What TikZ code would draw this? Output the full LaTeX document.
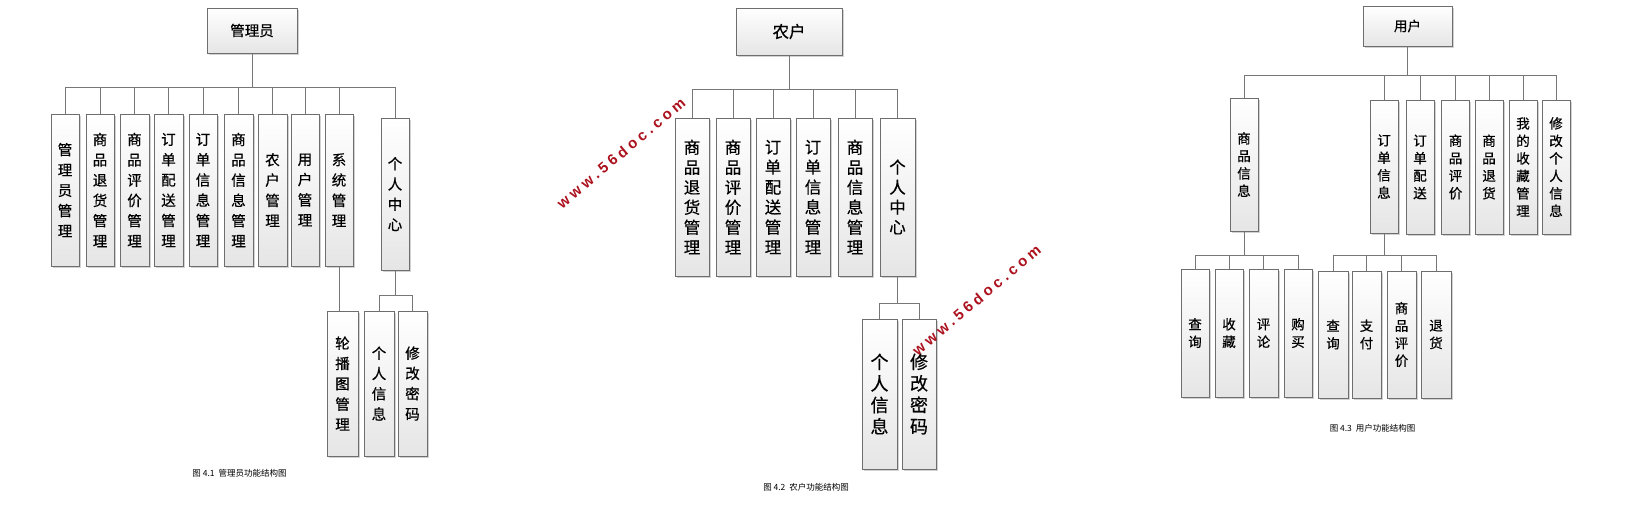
\documentclass[tikz,border=0pt]{standalone}
\usepackage{fontspec}
\newfontfamily\cjk{Noto Sans CJK SC}[FakeBold=0.5]
\newfontfamily\capfont{Noto Sans CJK SC}
\newfontfamily\wmfont{Liberation Sans}[LetterSpace=25]
\usetikzlibrary{shadows}

\definecolor{boxline}{HTML}{6E6E6E}
\definecolor{linkline}{HTML}{777777}
\definecolor{wmred}{HTML}{AC121E}

\tikzset{
  rootbox/.style={draw=boxline, line width=1pt, top color=white, bottom color=black!10,
    drop shadow={shadow xshift=1.5pt, shadow yshift=-1.5pt, fill=black!35, opacity=.5},
    inner sep=0pt, align=center},
  colbox/.style={rootbox},
  link/.style={draw=linkline, line width=1pt},
  figcap/.style={font=\capfont\fontsize{8.5}{10}\selectfont},
  watermark/.style={text=wmred, rotate=40, font=\wmfont\bfseries\fontsize{15}{15}\selectfont}
}

\begin{document}
\begin{tikzpicture}[x=1pt,y=-1pt]
                \useasboundingbox (0,0) rectangle (1635,515);

                \begin{scope}[every node/.append style={font=\cjk\fontsize{14.5}{20.3}\selectfont}]
                \node[rootbox, minimum width=90, minimum height=45] (a0) at (252,30.5) {管理员};
                \node[colbox, minimum width=28, minimum height=152] (a1) at (65,190) {管\\理\\员\\管\\理};
                \node[colbox, minimum width=28, minimum height=152] (a2) at (100,190) {商\\品\\退\\货\\管\\理};
                \node[colbox, minimum width=29, minimum height=152] (a3) at (134.5,190) {商\\品\\评\\价\\管\\理};
                \node[colbox, minimum width=29, minimum height=152] (a4) at (168.5,190) {订\\单\\配\\送\\管\\理};
                \node[colbox, minimum width=28, minimum height=152] (a5) at (203,190) {订\\单\\信\\息\\管\\理};
                \node[colbox, minimum width=29, minimum height=152] (a6) at (238.5,190) {商\\品\\信\\息\\管\\理};
                \node[colbox, minimum width=29, minimum height=152] (a7) at (272.5,190) {农\\户\\管\\理};
                \node[colbox, minimum width=28, minimum height=152] (a8) at (305,190) {用\\户\\管\\理};
                \node[colbox, minimum width=28, minimum height=152] (a9) at (339,190) {系\\统\\管\\理};
                \node[colbox, minimum width=28, minimum height=152] (a10) at (395,194) {个\\人\\中\\心};
                \node[colbox, minimum width=31, minimum height=145] (a11) at (342.5,383.5) {轮\\播\\图\\管\\理};
                \node[colbox, minimum width=30, minimum height=145] (a12) at (379,383.5) {个\\人\\信\\息};
                \node[colbox, minimum width=29, minimum height=145] (a13) at (412.5,383.5) {修\\改\\密\\码};
                \end{scope}

                \path (a0.south) ++(0,34) coordinate (abus);
                \draw[link] (a0.south) -- (abus);
                \foreach \i in {1,...,10}
                    \draw[link] (abus) -| (a\i.north);
                \draw[link] (a9.south) -- (a9.south |- a11.north);
                \path (a10.south) ++(0,25) coordinate (abus2);
                \draw[link] (a10.south) -- (abus2) -| (a12.north);
                \draw[link] (abus2) -| (a13.north);
                \node[figcap] (acap) at (239.5,473) {图 4.1\ \ 管理员功能结构图};

                \begin{scope}[every node/.append style={font=\cjk\fontsize{16.5}{20}\selectfont}]
                \node[rootbox, minimum width=106, minimum height=47] (f0) at (789,31.5) {农户};
                \node[colbox, minimum width=34, minimum height=158] (f1) at (692,197) {商\\品\\退\\货\\管\\理};
                \node[colbox, minimum width=34, minimum height=158] (f2) at (733,197) {商\\品\\评\\价\\管\\理};
                \node[colbox, minimum width=34, minimum height=158] (f3) at (773,197) {订\\单\\配\\送\\管\\理};
                \node[colbox, minimum width=34, minimum height=158] (f4) at (813,197) {订\\单\\信\\息\\管\\理};
                \node[colbox, minimum width=34, minimum height=158] (f5) at (855,197) {商\\品\\信\\息\\管\\理};
                \node[colbox, minimum width=35, minimum height=158] (f6) at (897.5,197) {个\\人\\中\\心};
                \end{scope}
                \begin{scope}[every node/.append style={font=\cjk\fontsize{18}{21.5}\selectfont}]
                \node[colbox, minimum width=35, minimum height=150] (f7) at (879.5,394) {个\\人\\信\\息};
                \node[colbox, minimum width=34, minimum height=150] (f8) at (919,394) {修\\改\\密\\码};
                \end{scope}

                \path (f0.south) ++(0,34) coordinate (fbus);
                \draw[link] (f0.south) -- (fbus);
                \foreach \i in {1,...,6}
                    \draw[link] (fbus) -| (f\i.north);
                \path (f6.south) ++(0,27) coordinate (fbus2);
                \draw[link] (f6.south) -- (fbus2) -| (f7.north);
                \draw[link] (fbus2) -| (f8.north);
                \node[figcap] (fcap) at (806,487) {图 4.2\ \ 农户功能结构图};

                \begin{scope}[every node/.append style={font=\cjk\fontsize{13.5}{17.5}\selectfont}]
                \node[rootbox, minimum width=89, minimum height=40] (u0) at (1407.5,26) {用户};
                \node[colbox, minimum width=28, minimum height=133] (u1) at (1244,164.5) {商\\品\\信\\息};
                \node[colbox, minimum width=28, minimum height=133] (u2) at (1384,166.5) {订\\单\\信\\息};
                \node[colbox, minimum width=28, minimum height=134] (u3) at (1420,167) {订\\单\\配\\送};
                \node[colbox, minimum width=28, minimum height=134] (u4) at (1455.5,167) {商\\品\\评\\价};
                \node[colbox, minimum width=28, minimum height=134] (u5) at (1489,167) {商\\品\\退\\货};
                \node[colbox, minimum width=28, minimum height=134] (u6) at (1523,167) {我\\的\\收\\藏\\管\\理};
                \node[colbox, minimum width=28, minimum height=134] (u7) at (1556,167) {修\\改\\个\\人\\信\\息};
                \node[colbox, minimum width=28, minimum height=128] (u8) at (1195,333) {查\\询};
                \node[colbox, minimum width=28, minimum height=128] (u9) at (1229,333) {收\\藏};
                \node[colbox, minimum width=29, minimum height=128] (u10) at (1263.5,333) {评\\论};
                \node[colbox, minimum width=28, minimum height=128] (u11) at (1298,333) {购\\买};
                \node[colbox, minimum width=30, minimum height=127] (u12) at (1333,334.5) {查\\询};
                \node[colbox, minimum width=29, minimum height=127] (u13) at (1366.5,334.5) {支\\付};
                \node[colbox, minimum width=29, minimum height=127] (u14) at (1401.5,334.5) {商\\品\\评\\价};
                \node[colbox, minimum width=30, minimum height=127] (u15) at (1436,334.5) {退\\货};
                \end{scope}

                \path (u0.south) ++(0,29) coordinate (ubus);
                \draw[link] (u0.south) -- (ubus);
                \foreach \i in {1,...,7}
                    \draw[link] (ubus) -| (u\i.north);
                \path (u1.south) ++(0,24) coordinate (ubus2);
                \draw[link] (u1.south) -- (ubus2);
                \foreach \i in {8,...,11}
                    \draw[link] (ubus2) -| (u\i.north);
                \path (u2.south) ++(0,22) coordinate (ubus3);
                \draw[link] (u2.south) -- (ubus3);
                \foreach \i in {12,...,15}
                    \draw[link] (ubus3) -| (u\i.north);
                \node[figcap] (ucap) at (1372.5,428) {图 4.3\ \ 用户功能结构图};

                \node[watermark] (wm1) at (621,153) {www.56doc.com};
                \node[watermark] (wm2) at (976.5,300) {www.56doc.com};
            \end{tikzpicture}
\end{document}
